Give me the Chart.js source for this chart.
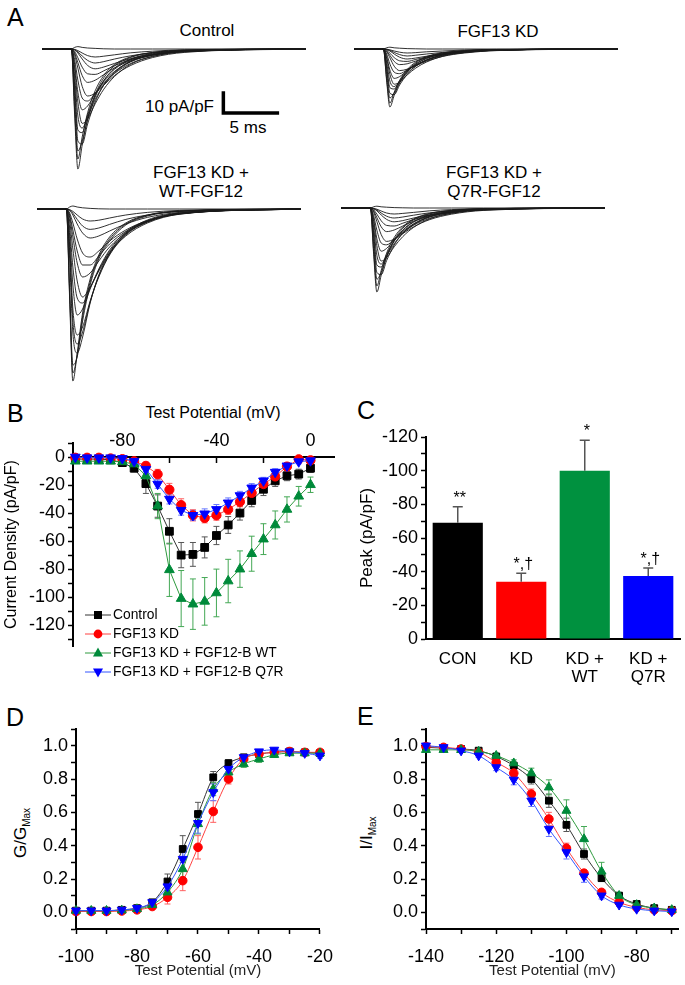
<!DOCTYPE html>
<html>
<head>
<meta charset="utf-8">
<title>FGF13 KD / FGF12 rescue – sodium currents</title>
<script src="https://cdn.jsdelivr.net/npm/chart.js@4.4.1/dist/chart.umd.min.js"></script>
<style>
  html, body { margin:0; padding:0; background:#fff; }
  #fig { position:relative; width:685px; height:985px; overflow:hidden; background:#fff;
         font-family:"Liberation Sans", Arial, Helvetica, sans-serif; color:#000; }
  #fig canvas { position:absolute; }
  .t { position:absolute; white-space:nowrap; line-height:1; }
  .cc { transform:translate(-50%,-50%); }
  .lc { transform:translate(0,-50%); }
  .rc { transform:translate(-100%,-50%); }
  .rot { transform:translate(-50%,-50%) rotate(-90deg); }
  .panel { font-size:25px; }
  .lab { font-size:17px; }
  .ttl { font-size:16px; }
  .leg { font-size:13.8px; }
  .sub { font-size:10px; position:relative; top:4px; }
</style>
</head>
<body>
<div id="fig">
  <div class="t lc panel" style="left:7px;top:17px">A</div>
  <div class="t cc lab" style="left:207px;top:30px">Control</div>
  <div class="t cc lab" style="left:498px;top:31px">FGF13 KD</div>
  <div class="t cc lab" style="left:201px;top:172px">FGF13 KD +</div>
  <div class="t cc lab" style="left:201px;top:191px">WT-FGF12</div>
  <div class="t cc lab" style="left:494px;top:172px">FGF13 KD +</div>
  <div class="t cc lab" style="left:494px;top:191px">Q7R-FGF12</div>
  <div class="t rc lab" style="left:214px;top:106px">10 pA/pF</div>
  <div class="t cc lab" style="left:248px;top:127px">5 ms</div>

  <div class="t lc panel" style="left:7px;top:413px">B</div>
  <div class="t cc ttl" style="left:213px;top:413px">Test Potential (mV)</div>
  <div class="t lc panel" style="left:357px;top:410px">C</div>
  <div class="t lc panel" style="left:6px;top:717px">D</div>
  <div class="t lc panel" style="left:357px;top:716px">E</div>
  <div class="t rot" style="left:20px;top:833px;font-size:17px">G/G<span class="sub">Max</span></div>
  <div class="t rot" style="left:366px;top:833px;font-size:17px">I/I<span class="sub">Max</span></div>
</div>

<script>
// =================== DATA ===================
// Panel A: current traces (pA/pF), values at TRACE_T (ms after the test step)
const TRACE_T = [-2.7, -0.05, 0, 0.3, 0.6, 1.0, 1.5, 2.2, 3.0, 4.0, 5.5, 7.5, 10.5, 21.7];
// response part of each trace, at t = 0.3, 0.6, 1.0, 1.5, 2.2, 3.0, 4.0, 5.5, 7.5, 10.5 ms
const TRACES_CONTROL = [
  [-33, -60, -48, -34.8, -22.8, -14.4, -8.4, -4.2, -1.8, -0.6],
  [-30.3, -55, -44, -31.9, -20.9, -13.2, -7.7, -3.9, -1.7, -0.6],
  [-25, -51, -46, -35.5, -24, -15.8, -9.6, -5, -2.2, -0.8],
  [-20, -46, -47.5, -37.5, -26.5, -18, -11.5, -6, -2.8, -1],
  [-17.6, -40.5, -41.8, -33, -23.3, -15.8, -10.1, -5.3, -2.4, -0.9],
  [-13.5, -33.5, -39.5, -34, -25.3, -18, -11.9, -6.4, -3.1, -1.1],
  [-9.5, -26.6, -37.2, -35, -27.4, -20.1, -13.7, -7.6, -3.8, -1.3],
  [-7.8, -21.7, -30.4, -28.5, -22.3, -16.4, -11.2, -6.2, -3.1, -1.1],
  [-5.3, -15.6, -24.5, -26, -22.2, -17.2, -12.2, -7.2, -3.7, -1.4],
  [-2.9, -9.6, -18.7, -23.5, -22.1, -18, -13.2, -8.2, -4.3, -1.7],
  [-2, -6.8, -13.3, -16.7, -15.6, -12.8, -9.4, -5.8, -3.1, -1.2],
  [-1.2, -4.4, -9.1, -12.4, -12.7, -10.9, -8.3, -5.3, -2.9, -1.2],
  [-0.5, -2, -5, -8.2, -9.9, -9, -7.2, -4.8, -2.7, -1.1],
  [-0.35, -1.4, -3.5, -5.7, -7, -6.3, -5, -3.4, -1.9, -0.8],
  [-0.2, -0.8, -2, -3.3, -4, -3.6, -2.9, -1.9, -1.1, -0.4],
  [0.8, 1.2, 0.8, 0.5, 0.3, 0.1, 0, 0, 0, 0]
];
const TRACES_KD = [
  [-16, -29, -23.2, -16.8, -11, -7, -4.1, -2, -0.9, -0.3],
  [-14.9, -27, -21.6, -15.7, -10.3, -6.5, -3.8, -1.9, -0.8, -0.3],
  [-12, -24.5, -22, -17, -11.5, -7.5, -4.6, -2.4, -1, -0.4],
  [-9.6, -22.1, -22.8, -18, -12.7, -8.6, -5.5, -2.9, -1.3, -0.5],
  [-8.4, -19.3, -20, -15.8, -11.1, -7.6, -4.8, -2.5, -1.2, -0.4],
  [-6.5, -16, -18.8, -16.2, -12, -8.5, -5.6, -3, -1.5, -0.5],
  [-4.5, -12.6, -17.6, -16.6, -13, -9.5, -6.5, -3.6, -1.8, -0.6],
  [-3.8, -10.5, -14.7, -13.8, -10.8, -8, -5.4, -3, -1.5, -0.5],
  [-2.5, -7.5, -11.6, -12.3, -10.4, -8.1, -5.7, -3.3, -1.7, -0.6],
  [-1.3, -4.4, -8.6, -10.8, -10.1, -8.3, -6.1, -3.7, -2, -0.8],
  [-1, -3.2, -6.2, -7.8, -7.4, -6, -4.4, -2.7, -1.4, -0.6],
  [-0.6, -2.1, -4.3, -5.9, -6.2, -5.2, -4, -2.5, -1.4, -0.6],
  [-0.3, -1, -2.5, -4.1, -5, -4.5, -3.6, -2.4, -1.4, -0.6],
  [-0.2, -0.7, -1.7, -2.8, -3.5, -3.1, -2.5, -1.7, -1, -0.4],
  [-0.1, -0.4, -1, -1.6, -2, -1.8, -1.4, -1, -0.5, -0.2],
  [0.6, 0.9, 0.6, 0.4, 0.2, 0.1, 0, 0, 0, 0]
];
const TRACES_WT = [
  [-45, -86, -72, -52, -35, -23, -14, -7, -3, -1],
  [-43, -82, -73, -54, -36.5, -24, -15, -7.5, -3.2, -1.1],
  [-40, -78, -74, -56, -38, -25, -16, -8, -3.5, -1.2],
  [-25, -62, -72, -64, -47, -33, -22, -12, -5.5, -2],
  [-21, -56, -67.5, -61.5, -46.5, -33.5, -22.5, -12.5, -6, -2.2],
  [-18, -50, -63, -59, -46, -34, -23, -13, -6.5, -2.3],
  [-13, -38, -53, -50, -40, -30, -20.5, -11.5, -6, -2],
  [-9.5, -29, -44.5, -47, -39.5, -30.5, -21.2, -12.5, -6.5, -2.3],
  [-6, -20, -36, -44, -39, -31, -22, -13.5, -7, -2.6],
  [-4, -14, -27, -34, -32, -26, -19, -12, -6.3, -2.5],
  [-3, -10.5, -21, -28, -28, -23.5, -17.5, -11.2, -6, -2.4],
  [-2, -7, -15, -22, -24, -21, -16, -10.5, -5.8, -2.3],
  [-0.7, -3, -7.5, -12, -14.5, -13.5, -11, -7.5, -4.2, -1.7],
  [-0.5, -2.1, -5.2, -8.5, -10.2, -9.5, -7.7, -5.2, -3, -1.2],
  [-0.3, -1.2, -3, -5, -6, -5.6, -4.5, -3, -1.7, -0.7],
  [1, 1.5, 1, 0.6, 0.3, 0.1, 0, 0, 0, 0]
];
const TRACES_Q7R = [
  [-23.1, -42, -33.6, -24.4, -16, -10.1, -5.9, -2.9, -1.3, -0.4],
  [-21.5, -39, -31.2, -22.6, -14.8, -9.4, -5.5, -2.7, -1.2, -0.4],
  [-17.8, -35.6, -32.2, -24.4, -16.7, -11, -6.8, -3.4, -1.5, -0.5],
  [-14, -32.2, -33.3, -26.3, -18.6, -12.6, -8.1, -4.2, -1.9, -0.7],
  [-12.4, -28.5, -29.5, -23.3, -16.4, -11.2, -7.1, -3.7, -1.7, -0.6],
  [-9.6, -23.7, -28, -24, -17.9, -12.7, -8.4, -4.5, -2.2, -0.7],
  [-6.8, -18.9, -26.5, -24.8, -19.4, -14.3, -9.7, -5.4, -2.7, -0.9],
  [-5.5, -15.4, -21.6, -20.2, -15.8, -11.7, -7.9, -4.4, -2.2, -0.8],
  [-3.8, -11.1, -17.5, -18.4, -15.7, -12.2, -8.6, -5.1, -2.6, -1],
  [-2, -6.8, -13.3, -16.7, -15.6, -12.8, -9.4, -5.8, -3.1, -1.2],
  [-1.4, -4.8, -9.4, -11.8, -11, -9, -6.6, -4.1, -2.2, -0.8],
  [-0.9, -3.1, -6.4, -8.7, -9, -7.6, -5.8, -3.7, -2, -0.8],
  [-0.4, -1.4, -3.5, -5.7, -6.9, -6.3, -5, -3.4, -1.9, -0.8],
  [-0.3, -1, -2.5, -4.1, -5, -4.5, -3.6, -2.4, -1.3, -0.5],
  [-0.2, -0.6, -1.5, -2.5, -3, -2.7, -2.2, -1.4, -0.8, -0.3],
  [0.6, 0.9, 0.6, 0.4, 0.2, 0.1, 0, 0, 0, 0]
];
const SCALE_BAR_MS = 5;
const SCALE_BAR_PAPF = 10;

// Panel B: I-V relationship
const IV_V = [-100,-95,-90,-85,-80,-75,-70,-65,-60,-55,-50,-45,-40,-35,-30,-25,-20,-15,-10,-5,0];
const IV_CONTROL = [-1.5,-1.5,-1.5,-2,-4,-8,-19,-35,-53,-70,-69.5,-64.5,-56,-48.5,-40,-31,-23,-17,-13.4,-12.2,-8];
const IV_CONTROL_SEM = [0.5,0.5,0.5,0.5,1,2.5,7,8,9,9,8.5,7.5,6.5,6,5,4.5,4.5,4,3.5,3.5,3];
const IV_KD = [-0.5,-0.5,-0.5,-1,-1.5,-3,-6.3,-12.3,-23.3,-34.3,-41.6,-43.5,-41.6,-37.4,-32,-25.6,-19.3,-13.9,-6.8,-1.6,-2.3];
const IV_KD_SEM = [0.3,0.3,0.3,0.5,0.8,1.5,2.5,3.5,4.5,4.5,4,3.5,3.5,3.5,3.5,3.5,3,2.5,2.5,2,1.5];
const IV_WT = [-3,-3,-3,-3,-3.5,-5,-13.4,-35,-80.5,-101,-105,-103,-97,-88.5,-80,-69,-58.6,-48.5,-37.4,-28,-19.8];
const IV_WT_SEM = [0.5,0.5,0.5,0.5,1,2,3,9,19,20,18,17,17,15.5,13,12.5,11,10,9,7,5.5];
const IV_Q7R = [0,-0.5,-0.5,-0.5,-1,-3,-8.7,-19.3,-30,-38,-41.6,-40.5,-37.4,-32.7,-27.5,-22,-17,-10.8,-6.3,-3.3,-2.6];
const IV_Q7R_SEM = [0.3,0.3,0.3,0.3,0.5,1,2,3,3.5,3.5,3.5,3.5,3.5,3.5,3,3,2.5,2.5,2,1.5,1.5];
const IV_X_TICKS = [-100,-80,-60,-40,-20,0];
const IV_X_LABELS = [-80,-40,0];
const IV_Y_TICKS = [-130,-120,-110,-100,-90,-80,-70,-60,-50,-40,-30,-20,-10,0,10];
const IV_Y_LABELS = [-120,-100,-80,-60,-40,-20,0];
const LEGEND_LABELS = ['Control','FGF13 KD','FGF13 KD + FGF12-B WT','FGF13 KD + FGF12-B Q7R'];

// Panel C: peak current density
const PEAK_LABELS = ['CON', 'KD', ['KD +','WT'], ['KD +','Q7R']];
const PEAK = [-69, -34, -100, -37.5];
const PEAK_SEM = [9.5, 5, 18, 4.7];
const PEAK_SIG = ['**', '*,\u2020', '*', '*,\u2020'];
const PEAK_Y_TICKS = [-120,-110,-100,-90,-80,-70,-60,-50,-40,-30,-20,-10,0];
const PEAK_Y_LABELS = [-120,-100,-80,-60,-40,-20,0];

// Panel D: steady-state activation
const ACT_V = [-100,-95,-90,-85,-80,-75,-70,-65,-60,-55,-50,-45,-40,-35,-30,-25,-20];
const ACT_CONTROL = [0.01,0.01,0.01,0.015,0.025,0.06,0.185,0.38,0.59,0.81,0.895,0.93,0.95,0.96,0.965,0.96,0.955];
const ACT_CONTROL_SEM = [0.01,0.01,0.01,0.01,0.01,0.015,0.045,0.08,0.07,0.035,0.02,0.015,0.01,0.01,0.01,0.01,0.01];
const ACT_KD = [0.005,0.005,0.005,0.008,0.015,0.035,0.09,0.19,0.39,0.605,0.80,0.92,0.95,0.96,0.965,0.96,0.96];
const ACT_KD_SEM = [0.005,0.005,0.005,0.005,0.008,0.01,0.04,0.06,0.07,0.065,0.03,0.015,0.01,0.01,0.01,0.01,0.01];
const ACT_WT = [0.01,0.01,0.01,0.012,0.02,0.045,0.12,0.26,0.53,0.74,0.84,0.89,0.92,0.945,0.955,0.955,0.955];
const ACT_WT_SEM = [0.005,0.005,0.005,0.005,0.008,0.012,0.03,0.05,0.06,0.04,0.02,0.02,0.02,0.015,0.01,0.01,0.01];
const ACT_Q7R = [0.01,0.01,0.01,0.015,0.025,0.06,0.155,0.32,0.535,0.72,0.86,0.93,0.965,0.975,0.965,0.955,0.94];
const ACT_Q7R_SEM = [0.005,0.005,0.005,0.005,0.008,0.012,0.04,0.06,0.06,0.05,0.02,0.015,0.01,0.01,0.01,0.01,0.015];
const ACT_X_TICKS = [-100,-90,-80,-70,-60,-50,-40,-30,-20];
const ACT_X_LABELS = [-100,-80,-60,-40,-20];
const FRAC_Y_TICKS = [-0.1,0,0.1,0.2,0.3,0.4,0.5,0.6,0.7,0.8,0.9,1.0,1.1];
const FRAC_Y_LABELS = [0,0.2,0.4,0.6,0.8,1.0];

// Panel E: steady-state inactivation
const INACT_V = [-140,-135,-130,-125,-120,-115,-110,-105,-100,-95,-90,-85,-80,-75,-70];
const INACT_CONTROL = [0.99,0.985,0.98,0.97,0.935,0.88,0.80,0.67,0.525,0.35,0.205,0.10,0.05,0.025,0.015];
const INACT_CONTROL_SEM = [0.01,0.01,0.01,0.01,0.015,0.02,0.03,0.04,0.04,0.03,0.02,0.015,0.01,0.01,0.01];
const INACT_KD = [0.995,0.99,0.98,0.96,0.90,0.835,0.71,0.56,0.385,0.235,0.12,0.06,0.03,0.015,0.01];
const INACT_KD_SEM = [0.01,0.01,0.01,0.01,0.015,0.02,0.03,0.04,0.03,0.02,0.015,0.01,0.01,0.01,0.01];
const INACT_WT = [0.975,0.975,0.975,0.965,0.94,0.895,0.835,0.75,0.61,0.44,0.245,0.10,0.045,0.025,0.015];
const INACT_WT_SEM = [0.01,0.01,0.01,0.01,0.015,0.02,0.03,0.045,0.065,0.075,0.055,0.02,0.01,0.01,0.01];
const INACT_Q7R = [1.0,0.99,0.97,0.94,0.87,0.795,0.67,0.50,0.36,0.215,0.10,0.045,0.02,0.01,0.005];
const INACT_Q7R_SEM = [0.01,0.01,0.01,0.01,0.02,0.03,0.035,0.045,0.04,0.035,0.02,0.01,0.01,0.01,0.01];
const INACT_X_TICKS = [-140,-130,-120,-110,-100,-90,-80,-70];
const INACT_X_LABELS = [-140,-120,-100,-80];

// =================== STYLE / LAYOUT ===================
const FONT = '"Liberation Sans", Arial, Helvetica, sans-serif';
Chart.defaults.font.family = FONT;
Chart.defaults.color = '#000';
Chart.defaults.animation = false;
Chart.defaults.responsive = false;
Chart.defaults.plugins.legend.display = false;
Chart.defaults.plugins.tooltip.enabled = false;

const TICK_FONT = 18;
const GROUP = [
  {fill:'#000000', line:'#333333', err:'#555555', style:'rect',     rot:0,   rB:5.5, rD:4.8, order:4},
  {fill:'#ff0000', line:'#ff4040', err:'#ff6060', style:'circle',   rot:0,   rB:4.6, rD:4.3, order:3},
  {fill:'#008a3a', line:'#2e9a3e', err:'#44a855', style:'triangle', rot:0,   rB:5.6, rD:5.2, order:2},
  {fill:'#0000ff', line:'#3355ff', err:'#6677ff', style:'triangle', rot:180, rB:5.6, rD:5.2, order:1}
];
const BAR_COLORS = ['#000000', '#ff0000', '#00913f', '#0000ff'];

const A_PX_PER_MS = 10.8, A_PX_PER_UNIT = 2, A_MS_MIN = -3, A_MS_MAX = 22, A_Y_MAX = 6;
const A_PANELS = [
  {traces: TRACES_CONTROL, stimX: 71,  baseY: 49,  yMin: -64, bar: true},
  {traces: TRACES_KD,      stimX: 383, baseY: 49,  yMin: -32},
  {traces: TRACES_WT,      stimX: 66,  baseY: 209, yMin: -90},
  {traces: TRACES_Q7R,     stimX: 370, baseY: 208, yMin: -45}
];
const BAR_ANCHOR = {ms: 14.07, pApF: -32};

function makeCanvas(left, top, w, h) {
  const c = document.createElement('canvas');
  c.width = w; c.height = h;
  c.style.left = left + 'px'; c.style.top = top + 'px';
  c.style.width = w + 'px'; c.style.height = h + 'px';
  document.getElementById('fig').appendChild(c);
  return c;
}

// error bars drawn through the chart's own scales
function drawErrors(chart, after) {
  const ctx = chart.ctx;
  chart.data.datasets.forEach((ds, di) => {
    if (!ds.errorBars || (!!ds.errorOnTop) !== after) return;
    const meta = chart.getDatasetMeta(di);
    const ys = chart.scales[meta.yAxisID];
    ctx.save();
    ctx.strokeStyle = ds.errorColor;
    ctx.lineWidth = ds.errorWidth || 1;
    meta.data.forEach((el, i) => {
      const e = ds.errorBars[i];
      const raw = ds.data[i];
      const v = (raw !== null && typeof raw === 'object') ? raw.y : raw;
      const lo = v - e, hi = ds.errorOneSided ? v : v + e;
      const yA = ys.getPixelForValue(lo), yB = ys.getPixelForValue(hi);
      const x = el.x, c = ds.errorCap || 3;
      ctx.beginPath();
      ctx.moveTo(x, yA); ctx.lineTo(x, yB);
      ctx.moveTo(x - c, yA); ctx.lineTo(x + c, yA);
      if (!ds.errorOneSided) { ctx.moveTo(x - c, yB); ctx.lineTo(x + c, yB); }
      ctx.stroke();
      if (ds.annotations) {
        ctx.fillStyle = '#000';
        ctx.font = '16px ' + FONT;
        ctx.textAlign = 'center';
        ctx.textBaseline = 'alphabetic';
        ctx.fillText(ds.annotations[i], x + 2, yA - 4);
      }
    });
    ctx.restore();
  });
}
const errorBarPlugin = {
  id: 'errorBars',
  beforeDatasetsDraw(chart) { drawErrors(chart, false); },
  afterDatasetsDraw(chart) { drawErrors(chart, true); }
};

function fixedTicks(list) { return s => { s.ticks = list.map(v => ({value: v})); }; }
function labelIf(list, digits) {
  return v => list.some(l => Math.abs(l - v) < 1e-6) ? (digits ? Number(v).toFixed(digits) : String(v)) : '';
}
const AXIS_GRID = {drawOnChartArea: false, color: '#000', tickColor: '#000', tickLength: 5, tickWidth: 1.5};
const AXIS_BORDER = {color: '#000', width: 2};

// =================== PANEL A ===================
A_PANELS.forEach(p => {
  const w = Math.round((A_MS_MAX - A_MS_MIN) * A_PX_PER_MS);
  const h = Math.round((A_Y_MAX - p.yMin) * A_PX_PER_UNIT);
  const left = Math.round(p.stimX + A_MS_MIN * A_PX_PER_MS);
  const top = p.baseY - A_Y_MAX * A_PX_PER_UNIT;
  const cv = makeCanvas(left, top, w, h);
  const datasets = p.traces.map(tr => {
    const vals = [0, 0, 0].concat(tr, [0]);
    return {
      data: TRACE_T.map((t, i) => ({x: t, y: vals[i]})),
      borderColor: '#1a1a1a', borderWidth: 0.9, pointRadius: 0,
      cubicInterpolationMode: 'monotone', fill: false
    };
  });
  if (p.bar) {
    datasets.push({
      data: [
        {x: BAR_ANCHOR.ms, y: BAR_ANCHOR.pApF + SCALE_BAR_PAPF},
        {x: BAR_ANCHOR.ms, y: BAR_ANCHOR.pApF},
        {x: BAR_ANCHOR.ms + SCALE_BAR_MS, y: BAR_ANCHOR.pApF}
      ],
      borderColor: '#000', borderWidth: 3.5, pointRadius: 0, tension: 0,
      borderJoinStyle: 'miter', borderCapStyle: 'square'
    });
  }
  new Chart(cv, {
    type: 'line',
    data: {datasets},
    options: {
      layout: {padding: 0},
      scales: {
        x: {type: 'linear', display: false, min: A_MS_MIN, max: A_MS_MAX},
        y: {type: 'linear', display: false, min: p.yMin, max: A_Y_MAX}
      }
    }
  });
});

// =================== PANEL B ===================
function xyDataset(xs, ys, sem, g, rKey, smooth) {
  return {
    data: xs.map((x, i) => ({x, y: ys[i]})),
    errorBars: sem, errorColor: g.err, errorCap: 3, errorWidth: 1,
    borderColor: g.line, borderWidth: 1, backgroundColor: g.fill,
    pointStyle: g.style, pointRotation: g.rot, pointRadius: g[rKey],
    pointBackgroundColor: g.fill, pointBorderColor: g.fill, pointBorderWidth: 1,
    cubicInterpolationMode: smooth ? 'monotone' : 'default', tension: 0,
    showLine: true, clip: false, order: g.order
  };
}
{
  const cv = makeCanvas(0, 425, 345, 235);
  new Chart(cv, {
    type: 'scatter',
    data: {datasets: [
      xyDataset(IV_V, IV_CONTROL, IV_CONTROL_SEM, GROUP[0], 'rB', false),
      xyDataset(IV_V, IV_KD, IV_KD_SEM, GROUP[1], 'rB', false),
      xyDataset(IV_V, IV_WT, IV_WT_SEM, GROUP[2], 'rB', false),
      xyDataset(IV_V, IV_Q7R, IV_Q7R_SEM, GROUP[3], 'rB', false)
    ]},
    options: {
      layout: {padding: {left: 0, top: 18, right: 11, bottom: 12}},
      scales: {
        x: {
          type: 'linear', position: {y: 0}, min: -101, max: 10,
          afterBuildTicks: fixedTicks(IV_X_TICKS),
          afterFit: s => { s.height = 0; },
          grid: AXIS_GRID, border: AXIS_BORDER,
          ticks: {font: {size: TICK_FONT}, padding: -32, maxRotation: 0, autoSkip: false,
                  callback: labelIf(IV_X_LABELS, 0)}
        },
        y: {
          type: 'linear', position: 'left', min: -135, max: 10,
          afterBuildTicks: fixedTicks(IV_Y_TICKS),
          afterFit: s => { s.width = 73; },
          grid: AXIS_GRID, border: AXIS_BORDER,
          ticks: {font: {size: TICK_FONT}, padding: 3, autoSkip: false, callback: labelIf(IV_Y_LABELS, 0)},
          title: {display: true, text: 'Current Density (pA/pF)', font: {size: 16}, padding: {top: 2, bottom: 0}}
        }
      }
    },
    plugins: [errorBarPlugin]
  });

  // legend (inside plot, lower left)
  const fig = document.getElementById('fig');
  const rowsY = [615, 634, 653, 672];
  LEGEND_LABELS.forEach((txt, i) => {
    const g = GROUP[i];
    let marker;
    if (g.style === 'rect') marker = `<rect x="10" y="2" width="8" height="8" fill="${g.fill}"/>`;
    else if (g.style === 'circle') marker = `<circle cx="14" cy="6" r="4.4" fill="${g.fill}"/>`;
    else if (g.rot === 0) marker = `<polygon points="14,0.5 19,9.5 9,9.5" fill="${g.fill}"/>`;
    else marker = `<polygon points="9,2.5 19,2.5 14,11.5" fill="${g.fill}"/>`;
    const svg = document.createElementNS('http://www.w3.org/2000/svg', 'svg');
    svg.setAttribute('width', '28'); svg.setAttribute('height', '12');
    svg.style.position = 'absolute'; svg.style.left = '84px'; svg.style.top = (rowsY[i] - 6) + 'px';
    svg.innerHTML = `<line x1="1" y1="6" x2="27" y2="6" stroke="${g.line}" stroke-width="1"/>` + marker;
    fig.appendChild(svg);
    const d = document.createElement('div');
    d.className = 't lc leg';
    d.style.left = '113px'; d.style.top = rowsY[i] + 'px';
    d.textContent = txt;
    fig.appendChild(d);
  });
}

// =================== PANEL C ===================
{
  const cv = makeCanvas(340, 420, 345, 270);
  new Chart(cv, {
    type: 'bar',
    data: {
      labels: PEAK_LABELS,
      datasets: [{
        data: PEAK, backgroundColor: BAR_COLORS, borderWidth: 0,
        barPercentage: 0.79, categoryPercentage: 1.0,
        errorBars: PEAK_SEM, errorOneSided: true, errorOnTop: true,
        errorColor: '#555', errorWidth: 1.5, errorCap: 5, annotations: PEAK_SIG
      }]
    },
    options: {
      layout: {padding: {left: 0, top: 17, right: 5, bottom: 0}},
      scales: {
        x: {
          grid: {display: false}, border: AXIS_BORDER,
          afterFit: s => { s.height = 51; },
          ticks: {font: {size: 17, lineHeight: 1.08}, padding: 3, maxRotation: 0, autoSkip: false}
        },
        y: {
          type: 'linear', reverse: true, min: -120, max: 0,
          afterBuildTicks: fixedTicks(PEAK_Y_TICKS),
          afterFit: s => { s.width = 86; },
          grid: AXIS_GRID, border: AXIS_BORDER,
          ticks: {font: {size: TICK_FONT}, padding: 3, autoSkip: false, callback: labelIf(PEAK_Y_LABELS, 0)},
          title: {display: true, text: 'Peak (pA/pF)', font: {size: 17}, padding: {top: 17, bottom: 0}}
        }
      }
    },
    plugins: [errorBarPlugin]
  });
}

// =================== PANELS D & E ===================
function curveChart(left, xs, series, sems, xMin, xMax, xTicks, xLabels, yWidth, padRight) {
  const cv = makeCanvas(left, 715, 345, 270);
  new Chart(cv, {
    type: 'scatter',
    data: {datasets: series.map((ys, i) => xyDataset(xs, ys, sems[i], GROUP[i], 'rD', true))},
    options: {
      layout: {padding: {left: 0, top: 14, right: padRight, bottom: 0}},
      scales: {
        x: {
          type: 'linear', position: 'bottom', min: xMin, max: xMax,
          afterBuildTicks: fixedTicks(xTicks),
          afterFit: s => { s.height = 56; },
          grid: AXIS_GRID, border: AXIS_BORDER,
          ticks: {font: {size: TICK_FONT}, padding: 12, maxRotation: 0, autoSkip: false, callback: labelIf(xLabels, 0)},
          title: {display: true, text: 'Test Potential (mV)', color: '#222', font: {size: 15}, padding: {top: 0, bottom: 5}}
        },
        y: {
          type: 'linear', position: 'left', min: -0.1, max: 1.1,
          afterBuildTicks: fixedTicks(FRAC_Y_TICKS),
          afterFit: s => { s.width = yWidth; },
          grid: AXIS_GRID, border: AXIS_BORDER,
          ticks: {font: {size: TICK_FONT}, padding: 3, autoSkip: false, callback: labelIf(FRAC_Y_LABELS, 1)}
        }
      }
    },
    plugins: [errorBarPlugin]
  });
}
curveChart(0, ACT_V, [ACT_CONTROL, ACT_KD, ACT_WT, ACT_Q7R],
           [ACT_CONTROL_SEM, ACT_KD_SEM, ACT_WT_SEM, ACT_Q7R_SEM],
           -100, -20, ACT_X_TICKS, ACT_X_LABELS, 76, 21);
curveChart(340, INACT_V, [INACT_CONTROL, INACT_KD, INACT_WT, INACT_Q7R],
           [INACT_CONTROL_SEM, INACT_KD_SEM, INACT_WT_SEM, INACT_Q7R_SEM],
           -140, -68, INACT_X_TICKS, INACT_X_LABELS, 86, 3);
</script>
</body>
</html>
